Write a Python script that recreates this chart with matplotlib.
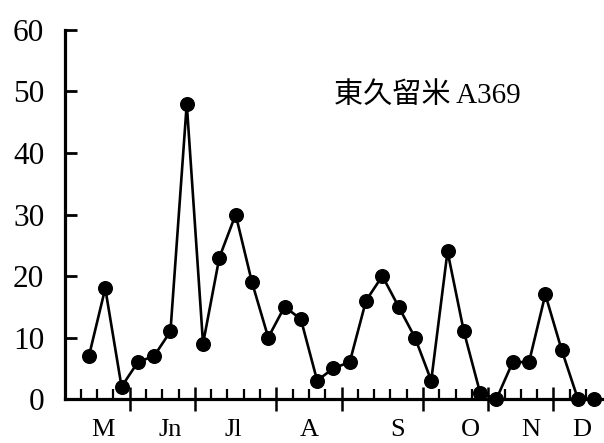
import matplotlib
matplotlib.use("Agg")
import matplotlib.pyplot as plt
import matplotlib.transforms as mtransforms

# Weekly counts, one value per week from May to December
counts = [7, 18, 2, 6, 7, 11, 48, 9, 23, 30, 19, 10, 15, 13, 3, 5,
          6, 16, 20, 15, 10, 3, 24, 11, 1, 0, 6, 6, 17, 8, 0, 0]
months = ["M", "Jn", "Jl", "A", "S", "O", "N", "D"]
month_label_pos = [0.83, 4.96, 8.88, 13.5, 18.93, 23.4, 27.1, 30.25]
month_bounds = [2.5, 6.5, 11.5, 15.5, 20.5, 24.5, 28.5]
yticks = [0, 10, 20, 30, 40, 50, 60]
site_label = "東久留米 A369"

weeks = list(range(len(counts)))

serif = ["Liberation Serif", "Noto Sans CJK JP"]

fig = plt.figure(figsize=(6.04, 4.43), dpi=100)
ax = fig.add_axes([0.1068, 0.0993, 0.8932, 0.833])

ax.plot(weeks, counts, color="black", lw=1.9, marker="o", ms=9.8,
        mfc="black", mec="black", clip_on=False, zorder=3)

ax.set_xlim(-1.5, 31.6)
ax.set_ylim(0, 60)

for side in ("top", "right"):
    ax.spines[side].set_visible(False)
for side in ("left", "bottom"):
    ax.spines[side].set_linewidth(2.3)

ax.set_yticks(yticks)
ax.set_yticklabels([str(v) for v in yticks], family=serif, fontsize=22.5)
ax.tick_params(axis="y", direction="in", length=8.5, width=2, pad=14.5)

week_edges = [w - 0.5 for w in weeks]
ax.set_xticks(month_bounds)
ax.set_xticks([e for e in week_edges if e not in month_bounds], minor=True)
ax.set_xticklabels([])
ax.tick_params(axis="x", which="major", direction="inout", length=17, width=1.8)
ax.tick_params(axis="x", which="minor", direction="in", length=7, width=1.6)

trans = mtransforms.blended_transform_factory(ax.transData, ax.transAxes)
for name, xpos in zip(months, month_label_pos):
    ax.text(xpos, -0.083, name, transform=trans, ha="center", va="center",
            family=serif, fontsize=19)

ax.text(15.05, 49.3, site_label, ha="left", va="center",
        family=serif, fontsize=21)

fig.savefig("out.png", dpi=100)
